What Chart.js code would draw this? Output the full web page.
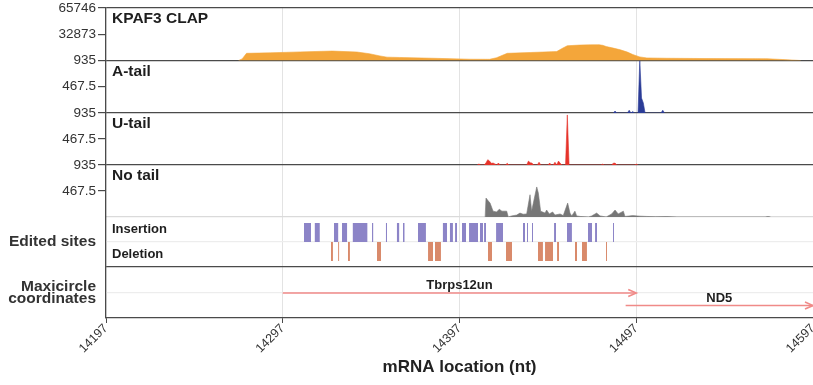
<!DOCTYPE html>
<html>
<head>
<meta charset="utf-8">
<script src="https://cdn.jsdelivr.net/npm/chart.js@4.4.0/dist/chart.umd.min.js"></script>
<style>
  html, body { margin: 0; padding: 0; background: #fff; }
</style>
</head>
<body>
<canvas id="chart" width="813" height="385"></canvas>
<script>
const FONT = "'Liberation Sans', Arial, sans-serif";

// x axis
const xTicks = [14197, 14297, 14397, 14497, 14597];

// KPAF3 CLAP coverage
const clapNt  = [14272, 14274, 14276.5, 14290, 14307, 14325, 14339, 14346, 14352, 14356, 14363, 14382, 14403, 14414, 14418, 14424, 14437, 14452, 14455, 14458, 14465, 14471, 14476, 14478, 14480, 14484, 14488, 14492, 14495, 14499, 14503, 14514, 14533, 14571, 14580, 14590];
const clapVal = [0, 2000, 9000, 9600, 10800, 11800, 10600, 8500, 5700, 4200, 3800, 2800, 1600, 1500, 3500, 9000, 10000, 11200, 15000, 18500, 19300, 19600, 19700, 19000, 17500, 15500, 13400, 10500, 7500, 4500, 3200, 2800, 2500, 2200, 1200, 0];

// A-tail reads
const aTailNt  = [14484, 14485, 14486, 14492, 14493, 14494, 14495, 14496, 14498, 14499, 14500, 14501, 14502, 14511, 14512, 14513];
const aTailVal = [0, 35, 0, 0, 50, 0, 25, 0, 0, 935, 265, 180, 0, 0, 50, 0];

// U-tail reads
const uTailNt  = [14407, 14408, 14409, 14411, 14412, 14413, 14414, 14415, 14416, 14417, 14418, 14419, 14420, 14423, 14424, 14425, 14435, 14436, 14437, 14438, 14439, 14441, 14442, 14443, 14447, 14448, 14449, 14450, 14451, 14452, 14453, 14454, 14455, 14457, 14458, 14459, 14477, 14478, 14479, 14483, 14484, 14485, 14486, 14496, 14497, 14498];
const uTailVal = [0, 18, 0, 0, 40, 95, 70, 30, 35, 20, 0, 35, 0, 0, 30, 0, 0, 70, 40, 35, 0, 0, 50, 0, 0, 35, 0, 0, 50, 0, 70, 30, 0, 0, 900, 0, 0, 15, 0, 0, 30, 35, 0, 0, 15, 0];

// No tail reads
const noTailNt  = [14411.5, 14412, 14413, 14414.3, 14416, 14418, 14419.5, 14421, 14423.7, 14424.6, 14426.5, 14429.4, 14431.2, 14433, 14435, 14436.9, 14437.8, 14440.7, 14441.6, 14442.9, 14445.4, 14446.3, 14447.8, 14449.7, 14451, 14453.9, 14455.7, 14458.2, 14459.5, 14460.5, 14462.3, 14463.3, 14465.2, 14470, 14471.8, 14474.6, 14476.5, 14480, 14483.1, 14485, 14486.8, 14489.7, 14490.6, 14495, 14499.1, 14502.9, 14508, 14514.2, 14520, 14570, 14571.5, 14573];
const noTailVal = [0, 340, 300, 250, 105, 90, 140, 105, 105, 0, 20, 35, 70, 50, 55, 400, 105, 540, 430, 105, 70, 125, 55, 90, 35, 55, 25, 250, 70, 20, 105, 20, 10, 0, 20, 70, 20, 0, 55, 125, 55, 105, 10, 25, 15, 10, 5, 8, 0, 0, 8, 0];

// edited sites [start, end] in nt
const insertionSites = [[14309, 14313], [14315, 14318], [14326, 14328.5], [14330.5, 14333.5], [14336.5, 14345], [14347.5, 14348.3], [14355.3, 14356], [14361.5, 14363], [14365, 14366], [14373.5, 14378], [14387.5, 14390], [14391.5, 14393.3], [14394.5, 14395.6], [14398.4, 14400.7], [14402.4, 14407.5], [14408.6, 14410.3], [14410.9, 14412], [14417.7, 14421.6], [14432.9, 14434.1], [14435.2, 14435.8], [14438, 14438.6], [14450.5, 14451.6], [14457.8, 14460.6], [14469.7, 14472], [14473.7, 14474.8], [14483.8, 14484.4]];
const deletionSites = [[14324.3, 14325.4], [14328.3, 14329], [14333.9, 14335], [14350.3, 14352.6], [14379.2, 14382], [14383.1, 14386.5], [14413.1, 14415.4], [14423.3, 14426.7], [14441.4, 14444.2], [14445.4, 14449.9], [14452.2, 14453.3], [14462.3, 14463.5], [14466.3, 14469.1], [14479.9, 14480.5]];

// maxicircle genes
const geneNames = ['Tbrps12un', 'ND5'];
const geneStart = [14297, 14491];
const geneEnd   = [14497, 14597];

// layout bits (panel rows, not data)
const insRow = [0.5, 0.88];
const delRow = [0.12, 0.5];
const geneRow = [0.49, 0.245];

const dark = '#4a4a4a', light = '#dadada', faint = '#ededed';
const arrowColor = '#f08a88';

const pts = (xs, ys) => xs.map((x, i) => ({ x: x, y: ys[i] }));

function rects(sites, lo, hi) {
  const out = [];
  sites.forEach(([a, b]) => {
    out.push({ x: a, y: lo }, { x: a, y: hi }, { x: b, y: hi }, { x: b, y: lo }, { x: b, y: null });
  });
  return out;
}

function areaSet(label, data, axis, color) {
  return { label, data, yAxisID: axis, fill: 'origin', backgroundColor: color, borderColor: color,
           borderWidth: 0.6, pointRadius: 0, tension: 0 };
}

const datasets = [
  areaSet('KPAF3 CLAP', pts(clapNt, clapVal), 'yClap', '#f4a63a'),
  areaSet('A-tail', pts(aTailNt, aTailVal), 'yA', '#2b3c97'),
  areaSet('U-tail', pts(uTailNt, uTailVal), 'yU', '#e6332a'),
  areaSet('No tail', pts(noTailNt, noTailVal), 'yNo', '#777777'),
  { label: 'Insertion', data: rects(insertionSites, insRow[0], insRow[1]), yAxisID: 'yEdit',
    fill: { value: insRow[0] }, backgroundColor: '#8c84c7', borderColor: 'transparent', borderWidth: 0, pointRadius: 0, spanGaps: false },
  { label: 'Deletion', data: rects(deletionSites, delRow[0], delRow[1]), yAxisID: 'yEdit',
    fill: { value: delRow[0] }, backgroundColor: '#d98a6b', borderColor: 'transparent', borderWidth: 0, pointRadius: 0, spanGaps: false }
];
const geneIndex = datasets.length;
geneNames.forEach((g, i) => {
  datasets.push({ label: g, data: [{ x: geneStart[i], y: geneRow[i] }, { x: geneEnd[i], y: geneRow[i] }],
    yAxisID: 'yMaxi', borderColor: arrowColor, borderWidth: 1.6, pointRadius: 0, fill: false });
});

function yAxis(o) {
  return {
    type: 'linear', position: 'left', stack: 'panels', stackWeight: o.h, weight: o.w,
    min: 0, max: o.max,
    afterBuildTicks: s => { s.ticks = o.ticks.map(v => ({ value: v })); },
    afterFit: s => { s.width = 106; s.paddingTop = 0; s.paddingBottom = 0; },
    grid: { drawOnChartArea: true, color: c => o.grid(c.tick.value), tickColor: c => o.tickCol(c.tick.value), tickLength: 8, lineWidth: 1.2 },
    border: { color: dark, width: 1.2 },
    ticks: { padding: 2, color: '#333', font: o.font, callback: o.label, autoSkip: false }
  };
}

const numFont = { family: FONT, size: 13.5 };
const numLabel = v => v === 0 ? '' : String(v);
const numTick = v => v === 0 ? 'transparent' : dark;

const labelPlugin = {
  id: 'panelText',
  afterDatasetsDraw(chart) {
    const ctx = chart.ctx, s = chart.scales, left = chart.chartArea.left;
    ctx.save();
    ctx.fillStyle = '#1e1e1e';
    ctx.textAlign = 'left';
    ctx.textBaseline = 'middle';
    ctx.font = 'bold 15.5px ' + FONT;
    [['yClap', 'KPAF3 CLAP'], ['yA', 'A-tail'], ['yU', 'U-tail'], ['yNo', 'No tail']].forEach(([id, t]) => {
      ctx.fillText(t, left + 6, s[id].top + 11);
    });
    ctx.font = 'bold 13px ' + FONT;
    ctx.fillText('Insertion', left + 6, s.yEdit.getPixelForValue(0.76));
    ctx.fillText('Deletion', left + 6, s.yEdit.getPixelForValue(0.26));

    ctx.textAlign = 'center';
    ctx.textBaseline = 'bottom';
    geneNames.forEach((g, i) => {
      const d = chart.getDatasetMeta(geneIndex + i).data;
      const a = d[0], b = d[1];
      ctx.fillStyle = '#1e1e1e';
      ctx.fillText(g, (a.x + b.x) / 2, a.y - 1);
      ctx.strokeStyle = arrowColor;
      ctx.lineWidth = 1.6;
      ctx.beginPath();
      ctx.moveTo(b.x - 8, b.y - 3.5);
      ctx.lineTo(b.x, b.y);
      ctx.lineTo(b.x - 8, b.y + 3.5);
      ctx.stroke();
    });
    ctx.restore();
  }
};

new Chart(document.getElementById('chart'), {
  type: 'line',
  data: { datasets },
  plugins: [labelPlugin],
  options: {
    responsive: false,
    animation: false,
    devicePixelRatio: 1,
    layout: { padding: { top: 8, left: 0, right: 0, bottom: 0 } },
    plugins: { legend: { display: false }, tooltip: { enabled: false } },
    scales: {
      x: {
        type: 'linear', position: 'bottom', min: 14197, max: 14597,
        afterBuildTicks: s => { s.ticks = xTicks.map(v => ({ value: v })); },
        afterFit: s => { s.height = 67; s.paddingLeft = 0; s.paddingRight = 0; },
        grid: { color: '#e3e3e3', tickColor: dark, tickLength: 5, lineWidth: 1 },
        border: { color: dark, width: 1.2 },
        ticks: { minRotation: 45, maxRotation: 45, autoSkip: false, padding: -2, color: '#333',
                 font: { family: FONT, size: 12.5 }, callback: v => String(v) },
        title: { display: true, text: 'mRNA location (nt)', color: '#222',
                 font: { family: FONT, size: 17, weight: 'bold' }, padding: { top: 0, bottom: 7 } }
      },
      yClap: yAxis({ h: 52.5, w: 6, max: 65746, ticks: [0, 32873, 65746], font: numFont, label: numLabel, tickCol: numTick,
                     grid: v => (v === 0 || v === 65746) ? dark : 'transparent' }),
      yA: yAxis({ h: 52.5, w: 5, max: 935, ticks: [0, 467.5, 935], font: numFont, label: numLabel, tickCol: numTick,
                  grid: v => v === 0 ? dark : 'transparent' }),
      yU: yAxis({ h: 52, w: 4, max: 935, ticks: [0, 467.5, 935], font: numFont, label: numLabel, tickCol: numTick,
                  grid: v => v === 0 ? dark : 'transparent' }),
      yNo: yAxis({ h: 52, w: 3, max: 935, ticks: [0, 467.5, 935], font: numFont, label: numLabel, tickCol: numTick,
                   grid: v => v === 0 ? light : 'transparent' }),
      yEdit: yAxis({ h: 50, w: 2, max: 1, ticks: [0, 0.5, 1], font: { family: FONT, size: 15.5, weight: 'bold' },
                     label: v => v === 0.5 ? 'Edited sites' : '', tickCol: () => 'transparent',
                     grid: v => v === 0 ? dark : (v === 0.5 ? faint : 'transparent') }),
      yMaxi: yAxis({ h: 51, w: 1, max: 1, ticks: [0, 0.5, 1], font: { family: FONT, size: 15.5, weight: 'bold', lineHeight: 0.8 },
                     label: v => v === 0.5 ? ['Maxicircle', 'coordinates'] : '', tickCol: () => 'transparent',
                     grid: v => v === 0.5 ? faint : 'transparent' })
    }
  }
});
</script>
</body>
</html>
